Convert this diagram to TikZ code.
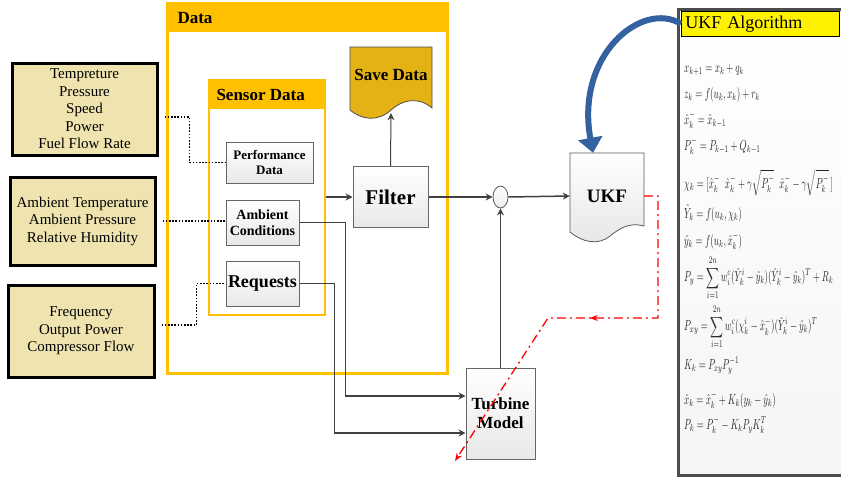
\documentclass[tikz,border=0pt]{standalone}
\usepackage{fontspec}
\usepackage{graphicx}
\setmainfont{Liberation Serif}
\usetikzlibrary{arrows.meta,shapes.geometric,decorations.markings}
\definecolor{datagold}{RGB}{255,192,0}
\definecolor{boxtan}{RGB}{239,228,176}
\definecolor{savegold}{RGB}{228,178,20}
\definecolor{linegray}{RGB}{64,64,64}
\definecolor{arcblue}{RGB}{52,97,160}

\begin{document}
\begin{tikzpicture}[x=1pt,y=-1pt,
    inbox/.style={draw=black,line width=3pt,fill=boxtan,align=center,inner sep=0pt,font=\fontsize{15}{17.5}\selectfont},
    sensbox/.style={draw=gray!80!black,line width=1pt,top color=white,bottom color=gray!18,align=center,inner sep=0pt},
    flow/.style={draw=linegray,line width=1.5pt,-{Stealth[length=7pt,width=7pt]}},
    dotlink/.style={black,line width=1.6pt,dash pattern=on 1.6pt off 1.6pt,shorten <=6pt},
    feedback/.style={red,line width=1.3pt,dash pattern=on 9pt off 4pt on 2pt off 4pt}]

  \useasboundingbox (0,0) rectangle (841,477);
  \clip (0,0) rectangle (841,477);

  \node[inbox,minimum width=145,minimum height=92] (tempbox) at (84.5,109) {Tempreture\\Pressure\\Speed\\Power\\Fuel Flow Rate};
  \node[inbox,minimum width=145,minimum height=88] (ambbox) at (82.5,221) {Ambient Temperature\\Ambient Pressure\\Relative Humidity};
  \node[inbox,minimum width=146,minimum height=92] (freqbox) at (81,331) {Frequency\\Output Power\\Compressor Flow};

  \node[draw=datagold,line width=3pt,fill=white,minimum width=280,minimum height=370,inner sep=0] (data) at (307,188) {};
  \fill[datagold] (data.north west) rectangle ([yshift=-30pt]data.north east);
  \node[anchor=west,font=\bfseries\fontsize{17}{20}\selectfont] (datalabel) at (174,18) {Data};

  \node[draw=datagold,line width=2.5pt,fill=white,minimum width=116,minimum height=235,inner sep=0] (sensor) at (267,197.5) {};
  \fill[datagold] (sensor.north west) rectangle ([yshift=-30pt]sensor.north east);
  \node[anchor=west,font=\bfseries\fontsize{17}{20}\selectfont] (sensorlabel) at (213,95) {Sensor Data};

  \node[sensbox,minimum width=87,minimum height=41,font=\bfseries\fontsize{13}{15}\selectfont] (perf) at (269.5,162.5) {Performance\\Data};
  \node[sensbox,minimum width=73,minimum height=45,font=\bfseries\fontsize{14}{16}\selectfont] (ambcond) at (262.5,222.5) {Ambient\\Conditions};
  \node[sensbox,minimum width=73,minimum height=45,font=\bfseries\fontsize{18}{20}\selectfont] (requests) at (262.5,283.5) {Requests};

  \draw[dotlink] ([yshift=-8pt]tempbox.east) -- ++(31,0) |- (perf.west);
  \draw[dotlink] (ambbox.east) -- (ambbox.east -| ambcond.west);
  \draw[dotlink] ([yshift=6pt]freqbox.east) -- ++(41,0) |- (requests.west);

  \node[sensbox,minimum width=75,minimum height=61,font=\bfseries\fontsize{21}{24}\selectfont] (filter) at (390.5,197) {Filter};

  \draw[draw=gray!60!black,line width=0.8pt,fill=savegold] (350,47) -- (432,47) -- (432,108)
    .. controls (418,96) and (402,100) .. (391,110) .. controls (378,122) and (362,120) .. (350,110) -- cycle;
  \node[minimum width=82,minimum height=76,font=\bfseries\fontsize{17}{20}\selectfont] (savedata) at (391,75) {Save Data};

  \node[ellipse,draw=gray!70!black,line width=0.8pt,top color=white,bottom color=gray!15,minimum width=15,minimum height=22,inner sep=0] (sum) at (500.5,197) {};

  \draw[gray!70!black,line width=0.8pt,top color=white,bottom color=gray!20] (570,153) -- (644,153) -- (644,226)
    .. controls (630,222) and (620,228) .. (610,236) .. controls (598,246) and (582,242) .. (570,232) -- cycle;
  \node[minimum width=74,minimum height=86,font=\bfseries\fontsize{19}{22}\selectfont] (ukf) at (607,196) {UKF};

  \node[sensbox,minimum width=69,minimum height=91,font=\bfseries\fontsize{17}{19}\selectfont] (turbine) at (500.5,413.5) {Turbine\\Model};

  \draw[flow] (sensor.east |- filter.west) -- (filter.west);
  \draw[flow,line width=1pt] (filter.north) -- (savedata.south);
  \draw[flow] (filter.east) -- (sum.west);
  \draw[flow] (sum.east) -- (ukf.west);
  \draw[flow,line width=1.2pt] (turbine.north) -- (sum.south);
  \draw[flow] (ambcond.east) -- ++(46,0) |- ([yshift=17.5pt]turbine.west);
  \draw[flow] (requests.east) -- ++(35,0) |- ([yshift=-19.5pt]turbine.west);

  \coordinate (fbcorner) at (658,318);
  \coordinate (fbturn) at (548,318);
  \coordinate (fbend) at (455,461);
  \draw[feedback,-{Stealth[length=8pt]},postaction={decorate},
    decoration={markings,mark=at position 0.49 with {\arrow{Stealth[length=8pt]}}}]
    (ukf.east) -| (fbcorner) -- (fbturn) -- (fbend);

  \node[draw=gray!60!black,line width=2.5pt,top color=white,bottom color=gray!8,minimum width=170,minimum height=466,anchor=north west] (algo) at (677,8) {};
  \node[draw=black,line width=0.6pt,fill=yellow,anchor=north west,minimum height=25,text width=150pt,align=left,inner xsep=4pt,font=\fontsize{18}{20}\selectfont] (algohead) at (681,11) {UKF Algorithm};

  \foreach \y/\eq [count=\i] in {
      70/{$x_{k+1}=x_k+q_k$},
      95/{$z_k=f(u_k,x_k)+r_k$},
      120/{$\hat{x}_k^-=\hat{x}_{k-1}$},
      146/{$P_k^-=P_{k-1}+Q_{k-1}$},
      183/{$\chi_k=[\hat{x}_k^-\;\;\hat{x}_k^-+\gamma\sqrt{P_k^-}\;\;\hat{x}_k^- -\gamma\sqrt{P_k^-}\,]$},
      213/{$\hat{Y}_k=f(u_k,\chi_k)$},
      241/{$\hat{y}_k=f(u_k,\hat{x}_k^-)$},
      278/{$P_y=\displaystyle\sum_{i=1}^{2n}w_i^c(\hat{Y}_k^i-\hat{y}_k)(\hat{Y}_k^i-\hat{y}_k)^T+R_k$},
      327/{$P_{xy}=\displaystyle\sum_{i=1}^{2n}w_i^c(\chi_k^i-\hat{x}_k^-)(\hat{Y}_k^i-\hat{y}_k)^T$},
      366/{$K_k=P_{xy}P_y^{-1}$},
      400/{$\hat{x}_k=\hat{x}_k^-+K_k(y_k-\hat{y}_k)$},
      425/{$P_k=P_k^- -K_kP_yK_k^T$}}
    \node[anchor=west,inner sep=0,text=black!85,font=\fontsize{10}{12}\selectfont] (eq\i) at (684,\y) {\scalebox{0.9}[1.45]{\eq}};

  \draw[arcblue,line width=6pt,-{Triangle[length=15pt,width=24pt]}] (algohead.west) .. controls (642,0) and (575,55) .. ([xshift=-14pt]ukf.north);
\end{tikzpicture}
\end{document}
